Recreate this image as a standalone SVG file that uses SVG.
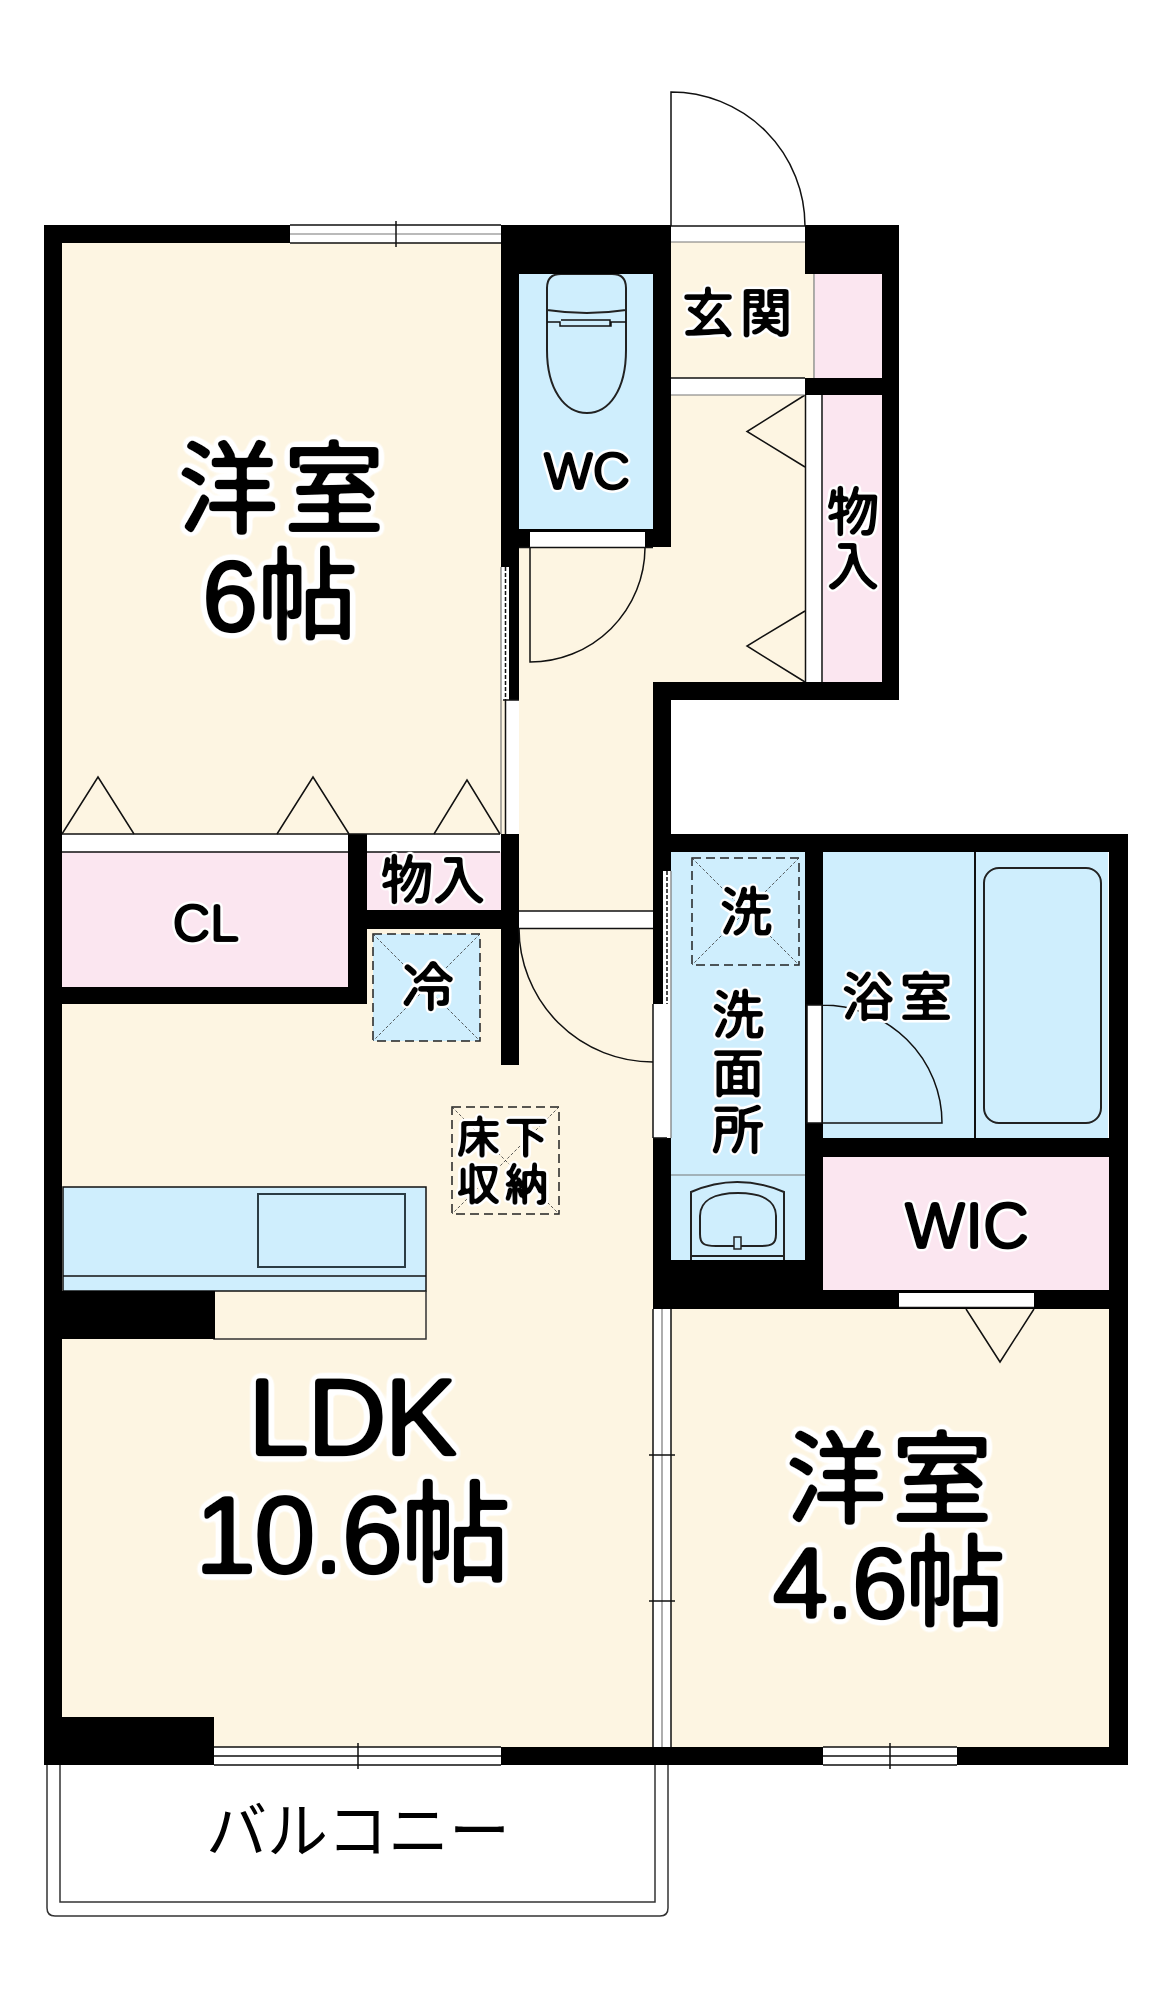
<svg xmlns="http://www.w3.org/2000/svg" width="1172" height="2000" viewBox="0 0 1172 2000">
<style>
.cream{fill:#fdf5e2}.blue{fill:#cfeefd}.pink{fill:#fbe6f0}.wall{fill:#000}.slot{fill:#fff}
.ln{fill:none;stroke:#111;stroke-width:1.5}.gr{fill:none;stroke:#777;stroke-width:1.2}
.dash{fill:none;stroke:#222;stroke-width:1.5;stroke-dasharray:9 5}.diag{fill:none;stroke:#333;stroke-width:.8;stroke-dasharray:3 2}
.tub{fill:none;stroke:#222;stroke-width:2}
text{font-family:"Liberation Sans","Noto Sans CJK JP",sans-serif;fill:#000;text-anchor:middle}
.big{font-size:100px;filter:url(#fb)}.ldk{font-size:110px;filter:url(#fb)}.sm{font-size:52px;filter:url(#fs)}.xs{font-size:43px;filter:url(#fs)}
.bal{font-size:61px}
</style>
<defs>
<filter id="fb" x="-25%" y="-25%" width="150%" height="150%" color-interpolation-filters="sRGB">
<feGaussianBlur in="SourceAlpha" stdDeviation="4" result="b1"/>
<feComponentTransfer in="b1" result="h1"><feFuncA type="linear" slope="20" intercept="-0.5"/></feComponentTransfer>
<feFlood flood-color="#fff"/><feComposite in2="h1" operator="in" result="halo"/>
<feGaussianBlur in="SourceAlpha" stdDeviation="1.5" result="b2"/>
<feComponentTransfer in="b2" result="ink"><feFuncR type="linear" slope="0"/><feFuncG type="linear" slope="0"/><feFuncB type="linear" slope="0"/><feFuncA type="linear" slope="5" intercept="-0.6"/></feComponentTransfer>
<feMerge><feMergeNode in="halo"/><feMergeNode in="ink"/></feMerge>
</filter>
<filter id="fs" x="-25%" y="-25%" width="150%" height="150%" color-interpolation-filters="sRGB">
<feGaussianBlur in="SourceAlpha" stdDeviation="2" result="b1"/>
<feComponentTransfer in="b1" result="h1"><feFuncA type="linear" slope="20" intercept="-0.5"/></feComponentTransfer>
<feFlood flood-color="#fff"/><feComposite in2="h1" operator="in" result="halo"/>
<feGaussianBlur in="SourceAlpha" stdDeviation="0.9" result="b2"/>
<feComponentTransfer in="b2" result="ink"><feFuncR type="linear" slope="0"/><feFuncG type="linear" slope="0"/><feFuncB type="linear" slope="0"/><feFuncA type="linear" slope="4" intercept="-0.4"/></feComponentTransfer>
<feMerge><feMergeNode in="halo"/><feMergeNode in="ink"/></feMerge>
</filter>
</defs>
<rect width="1172" height="2000" fill="#fff"/>
<g id="floors">
<path class="cream" d="M62 243H501V1747H62Z"/>
<path class="cream" d="M501 547H654V1747H501Z"/>
<path class="cream" d="M653 395H806V690H653Z"/>
<path class="cream" d="M671 242H814V378H671Z"/>
<path class="cream" d="M671 1309H1109V1747H671Z"/>
</g>
<g id="wc"><rect class="blue" x="519" y="274" width="134" height="255"/>
<path class="tub" d="M547 310V288Q547 274 561 274H612Q626 274 626 288V310Q587 316 547 310Z"/>
<path class="tub" d="M547 310V350C547 390 565 413 587 413C609 413 626 390 626 350V310"/>
<path class="ln" d="M547 322H560V326H611V322H626M561 320H610V326"/>
</g>
<g id="genkan-storage"><rect class="pink" x="815" y="274" width="67" height="104"/><path class="gr" d="M814 274V378"/></g>
<g id="storage-east"><rect class="slot" x="806" y="395" width="16" height="287"/><rect class="pink" x="823" y="395" width="59" height="287"/>
<path class="ln" d="M805.500 395V682M822 395V682"/>
<path class="ln" d="M805 395L747 431.500L805 467M805 611L747 646L805 682"/></g>
<g id="closet"><rect class="slot" x="62" y="834" width="286" height="18"/><rect class="pink" x="62" y="852" width="286" height="135"/></g>
<g id="storage-mid"><rect class="slot" x="367" y="834" width="134" height="18"/><rect class="pink" x="367" y="852" width="134" height="58"/></g>
<g id="fridge"><rect class="blue" x="373" y="934" width="107" height="107"/><rect class="dash" x="373" y="934" width="107" height="107"/><path class="diag" d="M373 934L480 1041M480 934L373 1041"/></g>
<g id="kitchen"><rect class="blue" x="63" y="1187" width="363" height="104" stroke="#111" stroke-width="1.500"/><path class="ln" d="M63 1276H426"/><rect x="258" y="1194" width="147" height="73" fill="none" stroke="#2b3c44" stroke-width="2"/><path fill="none" stroke="#333" stroke-width="1.500" d="M214 1291V1339H426V1291"/></g>
<g id="underfloor"><rect class="dash" x="452" y="1107" width="107" height="107"/><path class="diag" d="M452 1107L559 1214M559 1107L452 1214"/></g>
<g id="washroom"><rect class="blue" x="671" y="852" width="134" height="408"/><path class="gr" d="M671 1175H805"/>
<path class="tub" stroke-width="1.500" d="M691 1260V1192Q737 1172 784 1192V1260M691 1256H784"/>
<path class="tub" d="M700 1216C700 1200 715 1193 738 1193C761 1193 776 1200 776 1216V1234C776 1244 772 1246 760 1246H716C704 1246 700 1244 700 1234Z"/>
<rect class="blue" x="734" y="1237" width="7" height="12" stroke="#222" stroke-width="1.500"/>
<rect class="dash" x="692" y="858" width="107" height="107"/><path class="diag" d="M692 858L799 965M799 858L692 965"/></g>
<g id="bath"><rect class="blue" x="823" y="852" width="285" height="286"/><path fill="none" stroke="#111" stroke-width="2" d="M975 852V1138"/><rect class="tub" x="984" y="868" width="117" height="255" rx="15"/></g>
<g id="wic"><rect class="pink" x="823" y="1157" width="286" height="133"/></g>
<g id="walls" class="wall">
<rect x="44" y="225" width="246" height="18"/>
<rect x="44" y="225" width="18" height="1540"/>
<rect x="501" y="225" width="170" height="49"/>
<rect x="501" y="225" width="18" height="342"/>
<rect x="509" y="560" width="10" height="140"/>
<rect x="653" y="225" width="18" height="322"/>
<rect x="501" y="529" width="170" height="18"/>
<rect x="805" y="225" width="94" height="49"/>
<rect x="882" y="225" width="17" height="475"/>
<rect x="805" y="378" width="94" height="17"/>
<rect x="653" y="682" width="246" height="18"/>
<rect x="653" y="682" width="18" height="189"/>
<rect x="653" y="860" width="10" height="144"/>
<rect x="653" y="1138" width="18" height="171"/>
<rect x="653" y="834" width="475" height="18"/>
<rect x="805" y="834" width="18" height="475"/>
<rect x="1109" y="834" width="19" height="931"/>
<rect x="823" y="1138" width="305" height="19"/>
<rect x="653" y="1260" width="170" height="49"/>
<rect x="653" y="1290" width="475" height="19"/>
<rect x="62" y="987" width="305" height="17"/>
<rect x="348" y="834" width="19" height="170"/>
<rect x="348" y="910" width="171" height="19"/>
<rect x="501" y="834" width="18" height="231"/>
<rect x="44" y="1291" width="171" height="48"/>
<rect x="44" y="1717" width="170" height="48"/>
<rect x="44" y="1747" width="1084" height="18"/>
</g>
<g id="openings">
<rect class="slot" x="290" y="225" width="211" height="18"/><path class="ln" d="M290 225H501M290 243H501"/><path class="gr" d="M290 234H501"/><path class="ln" d="M396 221V247"/>
<rect class="slot" x="671" y="226" width="134" height="16"/><path class="ln" d="M671 226H805"/><path class="gr" d="M671 242H805"/>
<path class="ln" d="M671 226V92A134 134 0 0 1 805 226"/>
<rect class="slot" x="671" y="378" width="134" height="17"/><path class="ln" d="M671 378H805"/><path class="gr" d="M671 395H805"/>
<rect class="slot" x="530" y="532" width="115" height="15"/><path class="ln" d="M519 547.500H653M530 548V662A115 115 0 0 0 645 548"/>
<rect class="slot" x="501" y="567" width="8" height="133"/><path fill="none" stroke="#111" stroke-width="1.500" stroke-dasharray="4 2" d="M505.500 567V700"/>
<rect class="slot" x="505" y="700" width="14" height="134"/><path class="gr" d="M501 567V834"/><path class="ln" d="M505.500 700V834M503 700H519"/>
<path class="ln" d="M62 834H500M348 852H62M367 852H500"/>
<path class="ln" d="M62 834L98 777L134 834M277 834L313 777L349 834M434 834L467 780L500 834"/>
<rect class="slot" x="519" y="911" width="134" height="17"/><path class="ln" d="M519 911H653M519 928.500H653"/>
<path class="ln" d="M519 928A134 134 0 0 0 653 1062"/>
<rect class="slot" x="663" y="871" width="8" height="133"/><path fill="none" stroke="#111" stroke-width="1.500" stroke-dasharray="4 2" d="M667 871V1004"/>
<rect class="slot" x="653" y="1004" width="14" height="134"/><path class="gr" d="M671 871V1138"/><path class="ln" d="M653 1138V1004M653 1138H667"/>
<rect class="slot" x="807" y="1005" width="15" height="118"/><path class="ln" d="M807 1005H822V1123H807ZM822 1005A120 118 0 0 1 942 1123H822"/>
<rect class="slot" x="899" y="1293" width="135" height="14"/><path class="ln" d="M899 1307.500H1034M966 1309L1000 1362L1034 1309"/>
<rect class="slot" x="653" y="1309" width="18" height="438"/><path class="ln" d="M653 1309V1747M671 1309V1747"/><path class="gr" d="M662 1309V1747"/><path class="ln" d="M649 1455H675M649 1601H675"/>
<rect class="slot" x="214" y="1747" width="287" height="18"/><path class="ln" d="M214 1747H501M214 1756H501M214 1765H501M358 1743V1769"/>
<rect class="slot" x="823" y="1747" width="134" height="18"/><path class="ln" d="M823 1747H957M823 1756H957M823 1765H957M890 1743V1769"/>
</g>
<g id="balcony"><path fill="none" stroke="#333" stroke-width="1.500" d="M47 1765V1908Q47 1916 55 1916H660Q668 1916 668 1908V1765M60 1765V1902H655V1765"/></g>
<g id="labels">
<text class="big" x="284" y="525" letter-spacing="6">洋室</text>
<text class="big" x="280" y="631">6帖</text>
<text class="ldk" x="352" y="1455" letter-spacing="-2">LDK</text>
<text class="ldk" x="352" y="1573" letter-spacing="-2">10.6帖</text>
<text class="big" x="892" y="1515" letter-spacing="6">洋室</text>
<text class="big" x="888" y="1618" letter-spacing="-2">4.6帖</text>
<text class="sm" x="740" y="332" letter-spacing="6">玄関</text>
<text class="sm" x="587" y="489">WC</text>
<text class="sm"><tspan x="853" y="531">物</tspan><tspan x="853" y="585">入</tspan></text>
<text class="sm" x="433" y="899">物入</text>
<text class="sm" x="206" y="941">CL</text>
<text class="sm" x="428" y="1006">冷</text>
<text class="xs" x="505" y="1153" letter-spacing="5">床下</text>
<text class="xs" x="505" y="1200" letter-spacing="5">収納</text>
<text class="sm" x="746" y="931">洗</text>
<text class="sm" x="738" y="1034">洗</text>
<text class="sm" x="738" y="1092">面</text>
<text class="sm" x="738" y="1149">所</text>
<text class="sm" x="900" y="1016" letter-spacing="6">浴室</text>
<text class="sm" x="967" y="1248" style="font-size:64px">WIC</text>
<text class="bal" x="358" y="1853">バルコニー</text>
</g>
</svg>
